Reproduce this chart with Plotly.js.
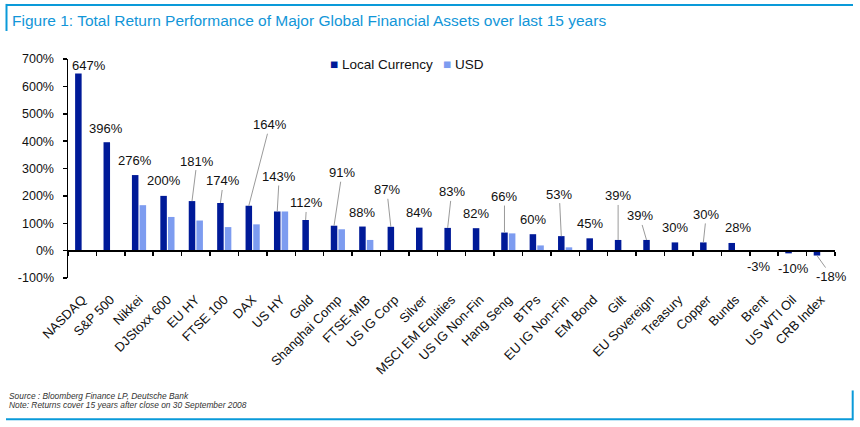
<!DOCTYPE html>
<html>
<head>
<meta charset="utf-8">
<script src="https://cdn.plot.ly/plotly-3.0.1.min.js"></script>
<style>
html,body{margin:0;padding:0;background:#fff;}
#chart{width:860px;height:427px;}
</style>
</head>
<body>
<div id="chart"></div>
<script>
// ---- data ----
const categories = ["NASDAQ","S&P 500","Nikkei","DJStoxx 600","EU HY","FTSE 100","DAX","US HY","Gold",
  "Shanghai Comp","FTSE-MIB","US IG Corp","Silver","MSCI EM Equities","US IG Non-Fin","Hang Seng","BTPs",
  "EU IG Non-Fin","EM Bond","Gilt","EU Sovereign","Treasury","Copper","Bunds","Brent","US WTI Oil","CRB Index"];
const localCurrency = [647,396,276,200,181,174,164,143,112,91,88,87,84,83,82,66,60,53,45,39,39,30,30,28,-3,-10,-18];
const usd = [null,null,166,123,110,86,96,143,null,78,39,null,null,null,null,63,19,12,null,-1,2,null,null,-1,null,null,null];
const yTickVals = [-100,0,100,200,300,400,500,600,700];
const yTickText = ["-100%","0%","100%","200%","300%","400%","500%","600%","700%"];
const seriesNames = ["Local Currency","USD"];
const titleText = "Figure 1: Total Return Performance of Major Global Financial Assets over last 15 years";
const sourceText = "Source : Bloomberg Finance LP, Deutsche Bank";
const noteText = "Note: Returns cover 15 years after close on 30 September 2008";

// ---- label placement (pixel offsets of label centre from local bar top) ----
const labelDx = [11,-1,0,0,5,3,21,2,1,8,0,-4,0,4,0,0,0,-2,0,0,-7,0,3,6,-1,5,15];
const labelDy = [-8,-14,-15,-15,-40,-22,-81,-35,-17,-53,-14,-37,-15,-36,-15,-36,-15,-42,-15,-44,-24,-15,-28,-15,15,15,21];
const labelLine = [0,0,0,0,1,1,1,1,1,1,0,1,0,1,0,1,0,1,0,1,1,0,1,0,0,0,1];

// ---- styles ----
const W = 860, H = 427;
const M = {l:68, r:25, t:59, b:149.3};
const PW = W - M.l - M.r, PH = H - M.t - M.b;
const px = x => (x - M.l) / PW;
const py = y => 1 - (y - M.t) / PH;
const C_LOCAL = "#001a98", C_USD = "#7d9cf0", C_FRAME = "#0a9ad9";
const FONT = "Arial, 'Liberation Sans', sans-serif";
const BARGAP = 0.46;
const LOCAL_OFF = -(1 - BARGAP) / 4;

const traces = [
  {type:"bar", name:seriesNames[0], x:categories, y:localCurrency, marker:{color:C_LOCAL},
   hoverinfo:"x+y", showlegend:false},
  {type:"bar", name:seriesNames[1], x:categories, y:usd, marker:{color:C_USD},
   hoverinfo:"x+y", showlegend:false},
  {type:"scatter", mode:"markers", x:categories, y:categories.map(()=>null), xaxis:"x2", yaxis:"y",
   hoverinfo:"skip", showlegend:false, marker:{opacity:0}}
];

const annotations = [];
categories.forEach((c, i) => {
  annotations.push({
    x: i + LOCAL_OFF, y: localCurrency[i], xref:"x", yref:"y",
    text: localCurrency[i] + "%",
    showarrow:true, arrowhead:0, arrowwidth:1, standoff:0,
    arrowcolor: labelLine[i] ? "#9a9a9a" : "rgba(0,0,0,0)",
    ax: labelDx[i], ay: labelDy[i],
    font:{family:FONT, size:13, color:"#111"}
  });
});
// legend as text
annotations.push({xref:"paper", yref:"paper", x:px(328), y:py(64), xanchor:"left", yanchor:"middle", showarrow:false,
  text:'<span style="color:'+C_LOCAL+'">■</span> ' + seriesNames[0], font:{family:FONT, size:13.5, color:"#111"}});
annotations.push({xref:"paper", yref:"paper", x:px(441), y:py(64), xanchor:"left", yanchor:"middle", showarrow:false,
  text:'<span style="color:'+C_USD+'">■</span> ' + seriesNames[1], font:{family:FONT, size:13.5, color:"#111"}});
// source & note
annotations.push({xref:"paper", yref:"paper", x:px(7), y:py(395.5), xanchor:"left", yanchor:"middle", showarrow:false,
  text:"<i>"+sourceText+"</i>", font:{family:FONT, size:8.4, color:"#333"}});
annotations.push({xref:"paper", yref:"paper", x:px(7), y:py(405), xanchor:"left", yanchor:"middle", showarrow:false,
  text:"<i>"+noteText+"</i>", font:{family:FONT, size:8.4, color:"#333"}});

const line = (x0,y0,x1,y1) => ({type:"line", xref:"paper", yref:"paper", x0:px(x0), y0:py(y0), x1:px(x1), y1:py(y1),
  line:{color:C_FRAME, width:2}});
const shapes = [
  line(6,5,853,5), line(6.5,4,6.5,31),
  line(6,418.7,853,418.7), line(852.7,390,852.7,419.7)
];

const layout = {
  width:W, height:H, margin:M, paper_bgcolor:"#fff", plot_bgcolor:"#fff",
  barmode:"group", bargap:BARGAP, bargroupgap:0.15,
  showlegend:false,
  title:{text:titleText, xref:"container", yref:"container", x:12/W, xanchor:"left", y:1-21/H, yanchor:"middle",
    font:{family:FONT, size:15.5, color:"#1296d8"}},
  font:{family:FONT, color:"#111"},
  xaxis:{type:"category", categoryarray:categories, range:[-0.5, categories.length-0.5], showline:false,
    showgrid:false, zeroline:false, ticks:"outside", ticklen:8, tickcolor:"rgba(0,0,0,0)", tickangle:-45,
    tickfont:{family:FONT, size:13, color:"#111"}, fixedrange:true},
  xaxis2:{type:"category", categoryarray:categories, range:[-0.5, categories.length-0.5], overlaying:"x",
    anchor:"free", position:py(250), showline:true, linecolor:"#000", linewidth:1.5, ticks:"outside",
    ticklen:4, tickcolor:"#000", tickwidth:1.5, tickson:"boundaries", showticklabels:false, showgrid:false, zeroline:false},
  yaxis:{range:[-100,700], tickvals:yTickVals, ticktext:yTickText, showline:true, linecolor:"#000", linewidth:1.5,
    ticks:"outside", ticklen:4, tickcolor:"#000", tickwidth:1.5, showgrid:false, zeroline:false,
    tickfont:{family:FONT, size:12.5, color:"#111"}, ticklabelstandoff:6},
  annotations, shapes
};

Plotly.newPlot("chart", traces, layout, {displayModeBar:false, staticPlot:true});
</script>
</body>
</html>
